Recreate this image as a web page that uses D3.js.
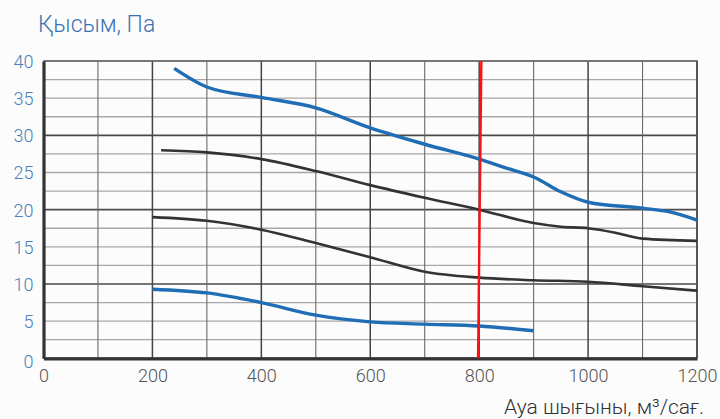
<!DOCTYPE html>
<html><head><meta charset="utf-8">
<script src="https://cdn.jsdelivr.net/npm/d3@7"></script>
<style>
html,body{margin:0;padding:0;background:#fcfcfc;}
svg{display:block;}
text{font-family:Roboto,"Liberation Sans",sans-serif;font-weight:300;}
</style></head>
<body><svg id="c" width="720" height="419"></svg>
<script>
// Data
const xTicks = [0,200,400,600,800,1000,1200];
const yTicks = [0,5,10,15,20,25,30,35,40];
const yTitle = "Қысым, Па";
const xTitle = "Ауа шығыны, м³/сағ.";
const curve1X = [240,300,400,500,600,700,800,850,900,950,1000,1100,1150,1200];
const curve1Y = [39.0,36.5,35.1,33.7,31.0,28.8,26.8,25.6,24.4,22.4,21.0,20.2,19.7,18.6];
const curve2X = [216,300,400,500,600,700,800,900,950,1000,1050,1100,1200];
const curve2Y = [28.0,27.7,26.8,25.2,23.3,21.6,20.0,18.2,17.7,17.5,16.9,16.1,15.8];
const curve3X = [200,300,400,500,600,700,800,900,1000,1100,1200];
const curve3Y = [19.0,18.5,17.3,15.5,13.6,11.65,10.85,10.5,10.3,9.7,9.1];
const curve4X = [200,300,400,500,600,700,800,900];
const curve4Y = [9.3,8.8,7.5,5.8,4.9,4.6,4.35,3.7];
const markerX = [798,804];
const markerY = [0,40];

const svg = d3.select("#c");
const x = d3.scaleLinear().domain([0,1200]).range([43.5,697]);
const y = d3.scaleLinear().domain([0,40]).range([358.3,61]);

const g = svg.append("g");
// horizontal grid
const hLines = d3.range(0,40.01,2.5);
g.selectAll("line.h").data(hLines).enter().append("line")
  .attr("x1",x(0)).attr("x2",x(1200))
  .attr("y1",d=>y(d)).attr("y2",d=>y(d))
  .attr("stroke",d=> d%10===0 ? "#4a4a4a" : "#a8a8a8")
  .attr("stroke-width",d=> d%10===0 ? 1.6 : 1.3);
// vertical grid
const vLines = d3.range(100,1200,100);
g.selectAll("line.v").data(vLines).enter().append("line")
  .attr("y1",y(0)).attr("y2",y(40))
  .attr("x1",d=>x(d)).attr("x2",d=>x(d))
  .attr("stroke",d=> d%200===0 ? "#444" : "#6a6a6a")
  .attr("stroke-width",d=> d%200===0 ? 1.5 : 1.1);
// top border
g.append("line").attr("x1",x(0)).attr("x2",x(1200)).attr("y1",y(40)).attr("y2",y(40)).attr("stroke","#777").attr("stroke-width",1.2);
// right border
g.append("line").attr("x1",x(1200)).attr("x2",x(1200)).attr("y1",y(40)-0.5).attr("y2",y(0)).attr("stroke","#555").attr("stroke-width",2);
// axes
const yAxis = d3.axisLeft(y).tickValues(yTicks).tickSize(0).tickPadding(10).tickFormat(d3.format("d"));
const xAxis = d3.axisBottom(x).tickValues(xTicks).tickSize(0).tickPadding(8).tickFormat(d3.format("d"));
const ya = svg.append("g").attr("transform",`translate(${x(0)},0)`).call(yAxis);
ya.select(".domain").attr("stroke","#333").attr("stroke-width",3.2);
ya.selectAll("text").attr("fill","#4a7fb8").attr("font-size",18).attr("dy",d=> d===0 ? "0.5em" : "0.36em");
const xa = svg.append("g").attr("transform",`translate(0,${y(0)})`).call(xAxis);
xa.select(".domain").attr("stroke","#333").attr("stroke-width",3.2);
xa.selectAll("text").attr("fill","#555").attr("font-size",18).attr("dy","0.88em");

// curves
const line = d3.line().x(d=>x(d[0])).y(d=>y(d[1])).curve(d3.curveMonotoneX);
const series = [
  {xs:curve1X, ys:curve1Y, c:"#1f6db5", w:3.4},
  {xs:curve2X, ys:curve2Y, c:"#333", w:2.6},
  {xs:curve3X, ys:curve3Y, c:"#333", w:2.6},
  {xs:curve4X, ys:curve4Y, c:"#1f6db5", w:3.4}
];
series.forEach(s=>{
  svg.append("path").datum(s.xs.map((v,i)=>[v,s.ys[i]]))
    .attr("d",line).attr("fill","none").attr("stroke",s.c).attr("stroke-width",s.w).attr("stroke-linecap","butt");
});
// red marker
svg.append("line").attr("x1",x(markerX[0])).attr("x2",x(markerX[1]))
  .attr("y1",y(markerY[0])).attr("y2",y(markerY[1]))
  .attr("stroke","#ff1010").attr("stroke-width",2.4);

// titles
svg.append("text").attr("x",38).attr("y",32).attr("fill","#3a72b3").attr("font-size",23).text(yTitle);
svg.append("text").attr("x",704).attr("y",414).attr("text-anchor","end").attr("fill","#333").attr("font-size",21).text(xTitle);
</script></body></html>
